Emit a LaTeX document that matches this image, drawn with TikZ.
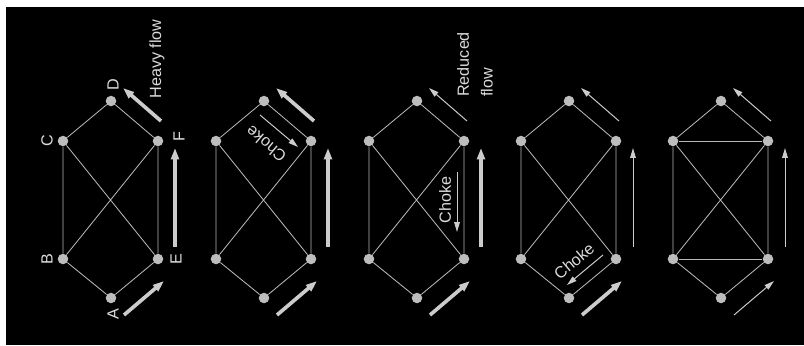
\documentclass[tikz,border=0pt]{standalone}
\usepackage{fontspec}
\setmainfont{Liberation Sans}
\usetikzlibrary{arrows.meta}
\definecolor{linegray}{gray}{0.72}
\definecolor{dotgray}{gray}{0.74}
\definecolor{arrgray}{gray}{0.80}
\definecolor{txtgray}{gray}{0.86}

\begin{document}
\begin{tikzpicture}[
    x=0.025cm, y=-0.025cm,
    dot/.style={circle, fill=dotgray, inner sep=0pt, minimum size=7.5pt},
    lbl/.style={text=txtgray, font=\fontsize{11.5}{17}\selectfont, inner sep=0pt},
    edge/.style={draw=linegray, line width=0.6pt},
    heavy/.style={draw=arrgray, line width=2.6pt, -{Triangle[length=8pt,width=5.5pt]}},
    light/.style={draw=arrgray, line width=0.7pt, -{Triangle[length=7pt,width=4pt]}}
]
    \useasboundingbox (0,0) rectangle (804,345);
    \fill[white] (0,0) rectangle (804,345);
    \fill[black] (6,7) rectangle (804,345);

    % the same six-node net, five times
    \foreach \i/\x in {1/63,2/216,3/369,4/521,5/673} {
        \begin{scope}[shift={(\x,141)}]
            \node[dot] (C\i) at (0,0) {};
            \node[dot] (D\i) at (48,-40) {};
            \node[dot] (F\i) at (95,0) {};
            \node[dot] (B\i) at (0,118) {};
            \node[dot] (E\i) at (95,118) {};
            \node[dot] (A\i) at (48,157) {};
            \coordinate (df\i) at (98,-20);  \coordinate (fd\i) at (60,-53);
            \coordinate (ef\i) at (112,106); \coordinate (fe\i) at (112,7);
            \coordinate (ae\i) at (61,174);  \coordinate (ea\i) at (101,140);
            \draw[edge] (C\i) -- (D\i) -- (F\i) -- (E\i) -- (A\i) -- (B\i) -- (C\i) -- (E\i)
                        (B\i) -- (F\i);
        \end{scope}
    }
    \draw[edge] (C5) -- (F5) (B5) -- (E5);

    % flows outside the net
    \foreach \i in {1,2} \draw[heavy] (df\i) -- (fd\i);
    \foreach \i in {3,4,5} \draw[light] (df\i) -- (fd\i);
    \foreach \i in {1,2,3} \draw[heavy] (ef\i) -- (fe\i);
    \foreach \i in {4,5} \draw[light] (ef\i) -- (fe\i);
    \foreach \i in {1,2,3,4} \draw[heavy] (ae\i) -- (ea\i);
    \draw[light] (ae5) -- (ea5);

    % chokes
    \coordinate (ck2a) at (260,115); \coordinate (ck2b) at (298,147);
    \coordinate (ck3a) at (457,172); \coordinate (ck3b) at (457,232);
    \coordinate (ck4a) at (603,255); \coordinate (ck4b) at (567,285);
    \draw[light] (ck2a) -- (ck2b);
    \draw[light] (ck3a) -- (ck3b);
    \draw[light] (ck4a) -- (ck4b);
    \node[lbl, rotate=140] (choke2) at (266,144) {Choke};
    \node[lbl, rotate=90] (choke3) at (445,200) {Choke};
    \node[lbl, rotate=40] (choke4) at (574,261) {Choke};

    % labels
    \node[lbl, rotate=90] (lA) at (113,314) {A};
    \node[lbl, rotate=90] (lB) at (47,259) {B};
    \node[lbl, rotate=90] (lC) at (47,141) {C};
    \node[lbl, rotate=90] (lD) at (113,85) {D};
    \node[lbl, rotate=90] (lE) at (176,259) {E};
    \node[lbl, rotate=90] (lF) at (179,137) {F};
    \node[lbl, rotate=90] (heavyflow) at (157,59) {Heavy flow};
    \node[lbl, rotate=90, align=left, anchor=west] (reduced) at (475,97) {Reduced\\flow};
\end{tikzpicture}
\end{document}
